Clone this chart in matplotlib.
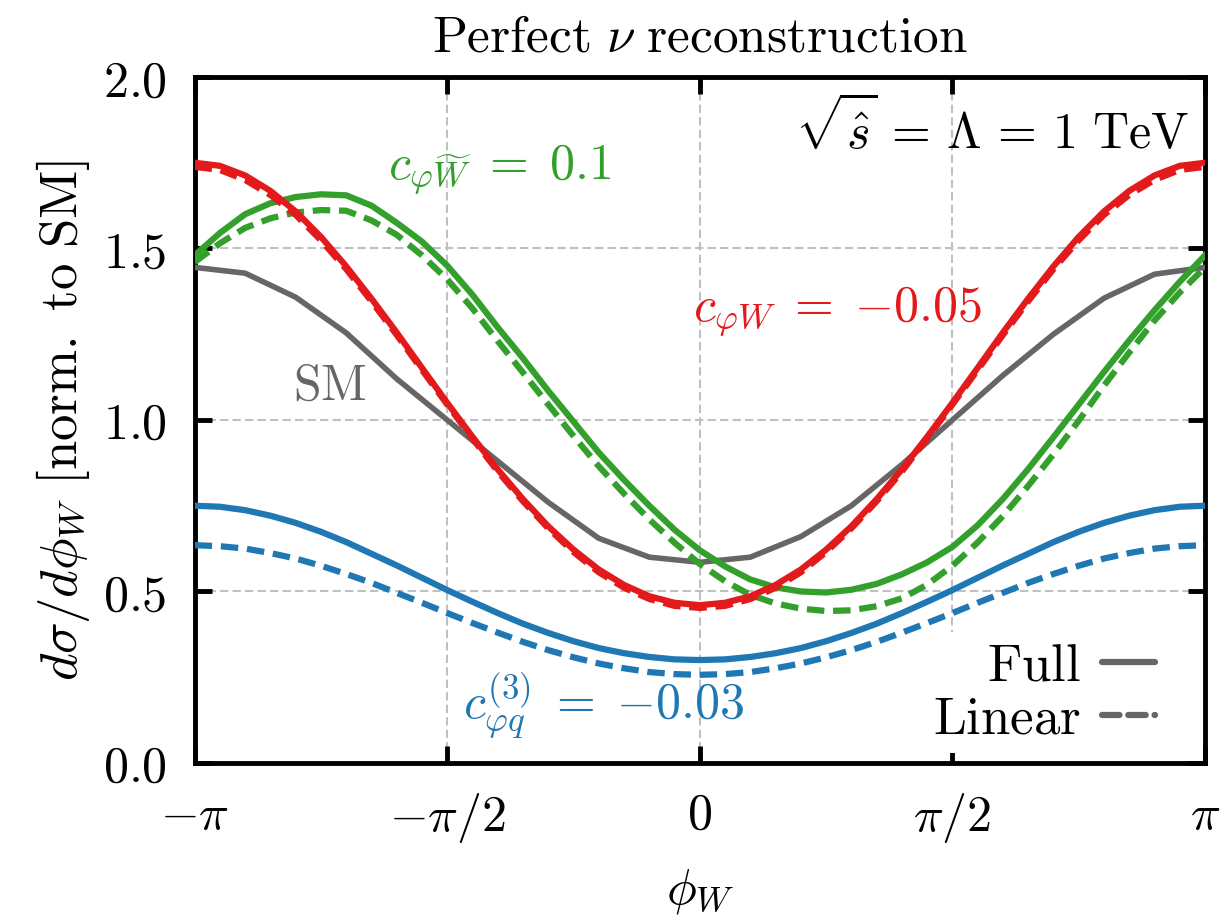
import matplotlib
matplotlib.use("Agg")
import matplotlib.pyplot as plt
from matplotlib.lines import Line2D
import numpy as np

# SM is sampled at steps of pi/10, the EFT curves at steps of pi/20
phi_sm = np.linspace(-np.pi, np.pi, 21)
phi = np.linspace(-np.pi, np.pi, 41)

# values (normalised to SM)
sm = [1.445, 1.428, 1.358, 1.254, 1.12, 1.0, 0.88, 0.76, 0.655, 0.60, 0.585,
      0.60, 0.66, 0.75, 0.87, 1.0, 1.13, 1.25, 1.355, 1.425, 1.445]

cphiW_full = [1.75, 1.741, 1.713, 1.668, 1.608, 1.534, 1.448, 1.354, 1.255, 1.152, 1.05,
              0.951, 0.856, 0.769, 0.69, 0.622, 0.564, 0.519, 0.486, 0.467, 0.46,
              0.467, 0.486, 0.519, 0.564, 0.622, 0.69, 0.769, 0.856, 0.951, 1.05,
              1.152, 1.255, 1.354, 1.448, 1.534, 1.608, 1.668, 1.713, 1.741, 1.75]
cphiW_lin = [1.738, 1.729, 1.70, 1.656, 1.598, 1.524, 1.44, 1.346, 1.248, 1.146, 1.045,
             0.946, 0.85, 0.763, 0.684, 0.615, 0.556, 0.511, 0.478, 0.458, 0.452,
             0.458, 0.478, 0.511, 0.556, 0.615, 0.684, 0.763, 0.85, 0.946, 1.045,
             1.146, 1.248, 1.346, 1.44, 1.524, 1.598, 1.656, 1.70, 1.729, 1.738]

cphiWt_full = [1.48, 1.545, 1.60, 1.632, 1.65, 1.658, 1.655, 1.625, 1.575, 1.52, 1.45,
               1.365, 1.27, 1.18, 1.085, 0.995, 0.905, 0.825, 0.75, 0.68, 0.62,
               0.573, 0.535, 0.512, 0.50, 0.497, 0.505, 0.522, 0.55, 0.585, 0.63,
               0.693, 0.77, 0.857, 0.95, 1.045, 1.14, 1.232, 1.32, 1.403, 1.48]
cphiWt_lin = [1.46, 1.515, 1.56, 1.588, 1.605, 1.612, 1.61, 1.582, 1.54, 1.48, 1.41,
              1.325, 1.23, 1.138, 1.045, 0.953, 0.865, 0.785, 0.71, 0.642, 0.58,
              0.53, 0.49, 0.465, 0.45, 0.443, 0.445, 0.457, 0.48, 0.52, 0.575,
              0.643, 0.72, 0.808, 0.90, 0.998, 1.10, 1.197, 1.29, 1.372, 1.445]

cphiq_full = [0.75, 0.747, 0.737, 0.721, 0.70, 0.674, 0.644, 0.61, 0.576, 0.54, 0.504,
              0.47, 0.437, 0.406, 0.379, 0.355, 0.335, 0.32, 0.309, 0.302, 0.30,
              0.302, 0.309, 0.32, 0.335, 0.355, 0.379, 0.406, 0.437, 0.47, 0.504,
              0.54, 0.576, 0.61, 0.644, 0.674, 0.70, 0.721, 0.737, 0.747, 0.75]
cphiq_lin = [0.635, 0.632, 0.625, 0.612, 0.596, 0.575, 0.551, 0.525, 0.496, 0.467, 0.437,
             0.408, 0.38, 0.353, 0.329, 0.308, 0.29, 0.276, 0.265, 0.259, 0.257,
             0.259, 0.265, 0.276, 0.29, 0.308, 0.329, 0.353, 0.38, 0.408, 0.437,
             0.467, 0.496, 0.525, 0.551, 0.575, 0.596, 0.612, 0.625, 0.632, 0.635]

xticks = [-np.pi, -np.pi / 2, 0, np.pi / 2, np.pi]
xticklabels = [r"$-\pi$", r"$-\pi/2$", r"$0$", r"$\pi/2$", r"$\pi$"]
yticks = [0.0, 0.5, 1.0, 1.5, 2.0]
yticklabels = [r"$0.0$", r"$0.5$", r"$1.0$", r"$1.5$", r"$2.0$"]

GRAY = "#666666"
RED = "#e31a1c"
GREEN = "#33a02c"
BLUE = "#1f78b4"

plt.rcParams["mathtext.fontset"] = "cm"
plt.rcParams["font.family"] = "serif"
plt.rcParams["font.serif"] = ["DejaVu Serif"]

fig = plt.figure(figsize=(12.24, 9.21), dpi=100)
ax = fig.add_axes([0.159, 0.1716, 0.8255, 0.7448])

lw = 4.5
dash = (0, (2.8, 1.4))

ax.plot(phi_sm, sm, color=GRAY, lw=4.0, solid_joinstyle="miter", zorder=3)
ax.plot(phi, cphiq_full, color=BLUE, lw=lw, zorder=3)
ax.plot(phi, cphiq_lin, color=BLUE, lw=lw, ls=dash, zorder=3)
ax.plot(phi, cphiWt_full, color=GREEN, lw=lw, zorder=3)
ax.plot(phi, cphiWt_lin, color=GREEN, lw=lw, ls=dash, zorder=3)
ax.plot(phi, cphiW_full, color=RED, lw=lw, zorder=3)
ax.plot(phi, cphiW_lin, color=RED, lw=lw, ls=dash, zorder=3)

ax.set_xlim(-np.pi, np.pi)
ax.set_ylim(0, 2)
ax.set_xticks(xticks, xticklabels)
ax.set_yticks(yticks, yticklabels)
ax.tick_params(axis="both", which="both", direction="in", length=12, width=3.5,
               top=True, right=True, labelsize=36, pad=20)
for sp in ax.spines.values():
    sp.set_linewidth(3.5)

ax.grid(True, color="#c0c0c0", ls=(0, (4, 2)), lw=1.5, zorder=1)

ax.set_title(r"$\mathrm{Perfect}\ \nu\ \mathrm{reconstruction}$", fontsize=37, pad=18)
ax.set_xlabel(r"$\phi_W$", fontsize=36, labelpad=16)
ax.set_ylabel(r"$d\sigma/d\phi_W\ \mathrm{[norm.\ to\ SM]}$", fontsize=38, labelpad=8)

fs = 36
ax.text(-1.94, 1.73, r"$c_{\varphi\widetilde{W}}\;=\;0.1$", color=GREEN, fontsize=fs,
        ha="left", va="center")
ax.text(-0.044, 1.315, r"$c_{\varphi W}\;=\;{-}0.05$", color=RED, fontsize=fs,
        ha="left", va="center")
ax.text(-2.30, 1.10, r"$\mathrm{SM}$", color=GRAY, fontsize=fs, ha="center", va="center")
ax.text(-1.475, 0.17, r"$c^{(3)}_{\varphi q}\;=\;{-}0.03$", color=BLUE, fontsize=fs,
        ha="left", va="center")
ax.text(3.04, 1.85, r"$\sqrt{\hat{s}}\,=\,\Lambda\,=\,1\ \mathrm{TeV}$", color="black",
        fontsize=fs, ha="right", va="center")

handles = [Line2D([], [], color=GRAY, lw=lw, solid_capstyle="round"),
           Line2D([], [], color=GRAY, lw=lw, ls=dash, dash_capstyle="round")]
leg = ax.legend(handles, [r"$\mathrm{Full}$", r"$\mathrm{Linear}$"], loc="lower right",
                bbox_to_anchor=(0.958, 0.015), markerfirst=False, frameon=True,
                facecolor="white", edgecolor="none", framealpha=1, fontsize=38,
                handlelength=1.0, handletextpad=0.4, labelspacing=0.05,
                borderpad=0.15, borderaxespad=0.0)
leg.set_zorder(2)

fig.savefig("out.png", dpi=100)
